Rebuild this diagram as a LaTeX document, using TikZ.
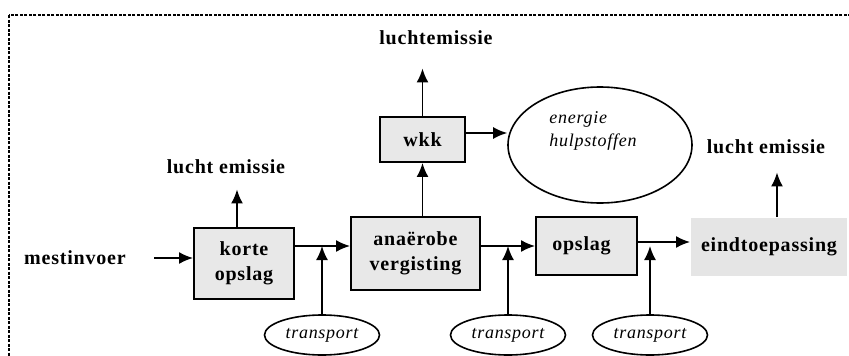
\documentclass[tikz,border=0pt]{standalone}
\usepackage{fontspec}
\setmainfont{Liberation Serif}
\usetikzlibrary{arrows.meta,shapes.geometric}

\begin{document}
\begin{tikzpicture}[x=1pt, y=-1pt,
    stap/.style={draw, line width=1.9pt, fill=black!9, inner sep=2pt, align=center,
        font=\bfseries\fontsize{20}{25}\selectfont\addfontfeature{LetterSpace=4}},
    tekst/.style={inner sep=3pt, align=center,
        font=\bfseries\fontsize{20}{25}\selectfont\addfontfeature{LetterSpace=4}},
    bron/.style={draw, ellipse, line width=1.6pt, minimum width=115pt, minimum height=40pt, inner sep=0pt,
        font=\itshape\fontsize{18}{22}\selectfont\addfontfeature{LetterSpace=4}},
    arr/.style={-{Latex[length=14pt, width=12pt]}, line width=1.8pt},
    kader/.style={dashed, dash pattern=on 3pt off 1.5pt, line width=1.1pt}
]
\useasboundingbox (0,0) rectangle (849,356);
\draw[kader] (9,15) rectangle (875,380);

% processtappen
\node[stap, minimum width=100pt, minimum height=71pt] (korte) at (244,263.5) {korte\\opslag};
\node[stap, minimum width=129pt, minimum height=73pt] (anae) at (415.5,253.5) {anaërobe\\vergisting};
\node[stap, minimum width=101pt, minimum height=58pt] (opslag) at (586.5,246) {\raisebox{4pt}{opslag}\hspace*{10pt}};
\node[stap, draw=none, fill=black!10, minimum width=156pt, minimum height=58pt] (eind) at (769,247) {\raisebox{5pt}{eindtoepassing}};
\node[stap, minimum width=85pt, minimum height=45pt] (wkk) at (422.5,139.5) {wkk};
\node[bron, minimum width=184pt, minimum height=116pt] (energie) at (600,145) {};
\node[align=left, inner sep=0pt, font=\itshape\fontsize{18}{23}\selectfont\addfontfeature{LetterSpace=4}] (energietekst) at (593,131) {energie\\hulpstoffen};

% teksten
\node[tekst, anchor=base] (invoer) at (75,264) {mestinvoer};
\node[tekst, anchor=base] (lucht1) at (226,173) {lucht emissie};
\node[tekst, anchor=base] (lucht2) at (436,44) {luchtemissie};
\node[tekst, anchor=base] (lucht3) at (766,153) {lucht emissie};

% transport
\node[bron] (t1) at (322,335) {transport};
\node[bron] (t2) at (508,335) {transport};
\node[bron] (t3) at (650,335) {transport};

% stromen
\draw[arr, shorten <=25pt] (invoer.east |- 0,258) -- (korte.west |- 0,258);
\draw[arr] ([yshift=17.5pt]korte.east) coordinate (l1) -- (l1 -| anae.west);
\draw[arr] (anae.east |- opslag) coordinate (l2) -- (opslag.west);
\draw[arr] ([yshift=4pt]opslag.east) coordinate (l3) -- (l3 -| eind.west);
\draw[arr] (t1.north) -- (t1.north |- l1);
\draw[arr] (t2.north) -- (t2.north |- l2);
\draw[arr, shorten >=4pt] (t3.north) -- (t3.north |- l3);

% emissies
\draw[arr, shorten >=13pt] ([xshift=-7pt]korte.north) -- ([xshift=-7pt]korte.north |- lucht1.south);
\draw[arr] (wkk.south |- anae.north) -- (wkk.south);
\draw[arr, shorten >=21pt] (wkk.north) -- (wkk.north |- lucht2.south);
\draw[arr] ([yshift=6.5pt]wkk.east) coordinate (l4) -- (l4 -| energie.west);
\draw[arr, shorten >=16pt] ([xshift=8pt]eind.north) -- ([xshift=8pt]eind.north |- lucht3.south);
\end{tikzpicture}
\end{document}
